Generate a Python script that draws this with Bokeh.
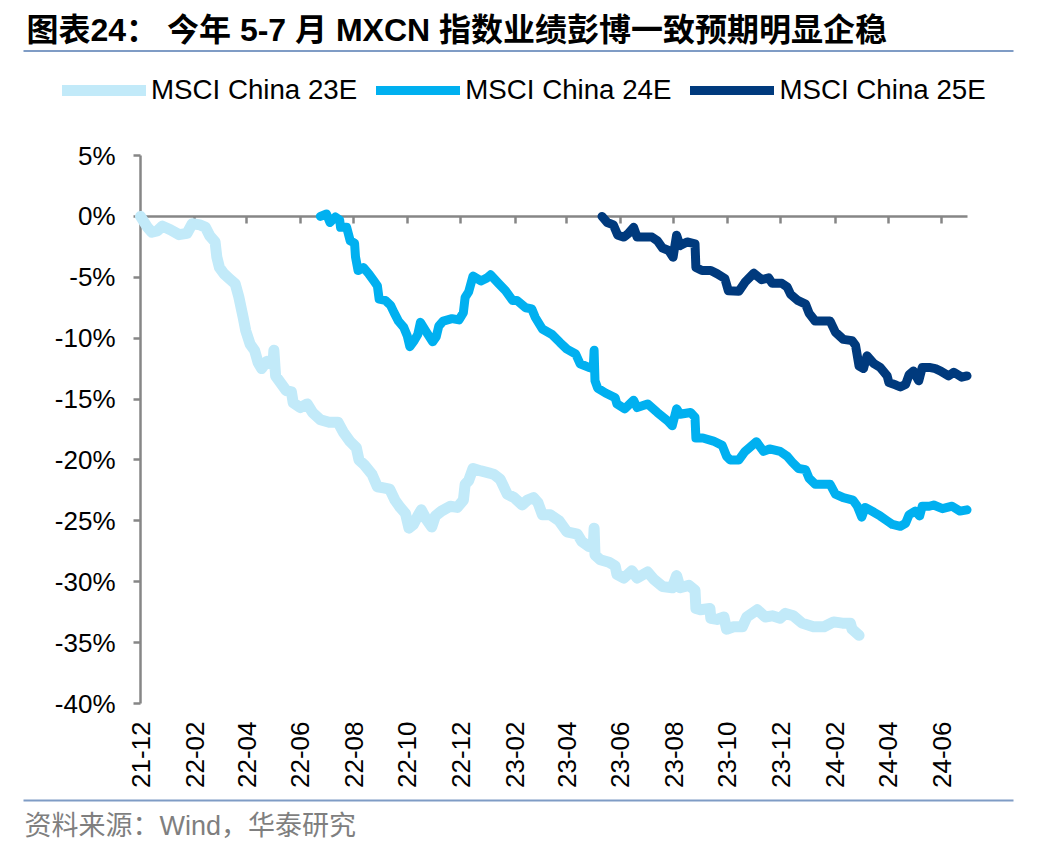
import math
import pandas as pd
from bokeh.plotting import figure
from bokeh.models import (Range1d, LinearAxis, FixedTicker, Label, BoxAnnotation,
                          Legend, LegendItem, ColumnDataSource)
from bokeh.embed import file_html
from bokeh.resources import INLINE

TITLE = "图表24：  今年 5-7 月 MXCN 指数业绩彭博一致预期明显企稳"
SOURCE = "资料来源：Wind，华泰研究"
series_names = ["MSCI China 23E", "MSCI China 24E", "MSCI China 25E"]
series_colors = ["#C2EAF9", "#00B0F0", "#003A7D"]
x_tick_labels = ["21-12", "22-02", "22-04", "22-06", "22-08", "22-10", "22-12", "23-02",
                 "23-04", "23-06", "23-08", "23-10", "23-12", "24-02", "24-04", "24-06"]
y_ticks = [5, 0, -5, -10, -15, -20, -25, -30, -35, -40]
x_start, x_end = "2021-12-01", "2024-06-30"

dates_23e = ["2021-12-01", "2021-12-09", "2021-12-14", "2021-12-20", "2021-12-26", "2022-01-04",
             "2022-01-14", "2022-01-23", "2022-01-29", "2022-02-07", "2022-02-13", "2022-02-18",
             "2022-02-24", "2022-02-26", "2022-03-01", "2022-03-06", "2022-03-12", "2022-03-19",
             "2022-03-23", "2022-03-28", "2022-03-31", "2022-04-05", "2022-04-10", "2022-04-14",
             "2022-04-18", "2022-04-24", "2022-04-28", "2022-05-01", "2022-05-02", "2022-05-04",
             "2022-05-10", "2022-05-16", "2022-05-22", "2022-05-24", "2022-06-01", "2022-06-09",
             "2022-06-15", "2022-06-24", "2022-07-04", "2022-07-14", "2022-07-20", "2022-07-28",
             "2022-08-04", "2022-08-07", "2022-08-13", "2022-08-22", "2022-08-28", "2022-09-04",
             "2022-09-11", "2022-09-17", "2022-09-23", "2022-09-29", "2022-10-03", "2022-10-08",
             "2022-10-13", "2022-10-17", "2022-10-23", "2022-10-29", "2022-11-02", "2022-11-09",
             "2022-11-19", "2022-11-27", "2022-12-04", "2022-12-06", "2022-12-10", "2022-12-15",
             "2022-12-24", "2023-01-04", "2023-01-08", "2023-01-15", "2023-01-23", "2023-01-31",
             "2023-02-09", "2023-02-15", "2023-02-22", "2023-02-27", "2023-03-04", "2023-03-13",
             "2023-03-23", "2023-04-01", "2023-04-13", "2023-04-18", "2023-04-26", "2023-05-01",
             "2023-05-02", "2023-05-03", "2023-05-09", "2023-05-19", "2023-05-26", "2023-05-28",
             "2023-06-05", "2023-06-14", "2023-06-20", "2023-07-02", "2023-07-09", "2023-07-19",
             "2023-07-30", "2023-08-04", "2023-08-08", "2023-08-18", "2023-08-25", "2023-08-26",
             "2023-08-31", "2023-09-11", "2023-09-12", "2023-09-19", "2023-09-27", "2023-09-30",
             "2023-10-08", "2023-10-18", "2023-10-23", "2023-11-04", "2023-11-13", "2023-11-21",
             "2023-11-30", "2023-12-06", "2023-12-15", "2023-12-25", "2024-01-07", "2024-01-19",
             "2024-01-30", "2024-02-09", "2024-02-18", "2024-02-20", "2024-02-28"]
values_23e = [0.0, -0.9, -1.3, -1.2, -0.8, -1.1,
              -1.5, -1.4, -0.6, -0.7, -0.9, -1.6,
              -2.1, -3.35, -4.2, -4.7, -5.1, -5.55,
              -6.6, -8.3, -9.4, -10.5, -11.0, -12.0,
              -12.5, -11.9, -12.1, -12.2, -11.0, -13.1,
              -13.7, -14.3, -14.4, -15.3, -15.7, -15.4,
              -16.1, -16.7, -16.9, -16.9, -17.7, -18.5,
              -19.0, -20.0, -20.4, -21.2, -22.2, -22.3,
              -22.4, -23.3, -23.9, -24.4, -25.6, -25.3,
              -24.6, -24.1, -24.9, -25.5, -24.6, -24.2,
              -23.8, -23.9, -23.3, -22.0, -21.7, -20.7,
              -20.9, -21.1, -21.2, -21.6, -22.8, -23.1,
              -23.7, -23.3, -23.1, -23.5, -24.5, -24.5,
              -25.0, -25.9, -26.1, -26.7, -27.1, -27.2,
              -25.6, -27.8, -28.2, -28.4, -28.7, -29.4,
              -29.7, -29.1, -29.7, -29.2, -29.8, -30.4,
              -30.5, -29.5, -30.5, -30.3, -30.7, -32.2,
              -32.3, -32.2, -33.0, -33.1, -32.9, -33.9,
              -33.7, -33.7, -32.9, -32.3, -32.9, -32.8,
              -33.0, -32.6, -32.8, -33.4, -33.7, -33.7,
              -33.3, -33.4, -33.4, -33.9, -34.4]

dates_24e = ["2022-06-24", "2022-07-01", "2022-07-05", "2022-07-11", "2022-07-16", "2022-07-17",
             "2022-07-24", "2022-07-28", "2022-08-02", "2022-08-03", "2022-08-06", "2022-08-12",
             "2022-08-18", "2022-08-24", "2022-08-28", "2022-08-30", "2022-09-06", "2022-09-12",
             "2022-09-16", "2022-09-21", "2022-09-27", "2022-10-01", "2022-10-04", "2022-10-09",
             "2022-10-13", "2022-10-16", "2022-10-22", "2022-10-30", "2022-11-03", "2022-11-06",
             "2022-11-11", "2022-11-21", "2022-11-29", "2022-12-04", "2022-12-06", "2022-12-10",
             "2022-12-15", "2022-12-24", "2022-12-31", "2023-01-04", "2023-01-13", "2023-01-21",
             "2023-01-29", "2023-02-03", "2023-02-13", "2023-02-20", "2023-02-24", "2023-03-04",
             "2023-03-15", "2023-03-24", "2023-04-01", "2023-04-11", "2023-04-16", "2023-04-26",
             "2023-05-01", "2023-05-02", "2023-05-03", "2023-05-06", "2023-05-15", "2023-05-26",
             "2023-05-28", "2023-06-06", "2023-06-16", "2023-06-20", "2023-07-02", "2023-07-13",
             "2023-07-25", "2023-07-30", "2023-08-04", "2023-08-08", "2023-08-20", "2023-08-25",
             "2023-08-26", "2023-09-03", "2023-09-15", "2023-09-25", "2023-09-30", "2023-10-04",
             "2023-10-14", "2023-10-21", "2023-10-26", "2023-11-03", "2023-11-11", "2023-11-18",
             "2023-11-30", "2023-12-08", "2023-12-14", "2023-12-21", "2023-12-29", "2024-01-02",
             "2024-01-09", "2024-01-26", "2024-02-01", "2024-02-10", "2024-02-21", "2024-02-26",
             "2024-03-02", "2024-03-06", "2024-03-16", "2024-03-23", "2024-03-31", "2024-04-06",
             "2024-04-15", "2024-04-21", "2024-04-25", "2024-05-02", "2024-05-07", "2024-05-10",
             "2024-05-18", "2024-05-23", "2024-06-02", "2024-06-13", "2024-06-22", "2024-06-30"]
values_24e = [0.0, 0.2, -0.5, -0.05, -0.3, -0.9,
              -0.9, -2.0, -2.2, -3.3, -4.45, -4.2,
              -4.7, -5.3, -5.7, -6.8, -6.9, -7.3,
              -7.9, -8.6, -9.1, -9.8, -10.7, -10.2,
              -9.7, -8.7, -9.4, -10.3, -9.9, -9.0,
              -8.6, -8.4, -8.5, -7.9, -6.65, -6.2,
              -4.9, -5.3, -5.05, -4.8, -5.5, -6.1,
              -6.9, -6.9, -7.5, -7.6, -8.3, -9.25,
              -9.7, -10.35, -10.9, -11.3, -12.1, -12.4,
              -12.5, -11.0, -13.5, -14.1, -14.5, -14.9,
              -15.4, -15.8, -15.1, -15.7, -15.4, -16.1,
              -16.8, -17.2, -15.8, -16.25, -16.1, -16.5,
              -18.2, -18.2, -18.45, -18.8, -19.7, -20.0,
              -20.0, -19.3, -19.0, -18.5, -19.3, -19.1,
              -19.3, -19.7, -20.2, -20.7, -20.8, -21.5,
              -22.0, -22.0, -22.8, -23.1, -23.3, -23.8,
              -24.7, -23.9, -24.3, -24.6, -25.0, -25.3,
              -25.45, -25.2, -24.5, -24.2, -24.6, -23.8,
              -23.8, -23.7, -24.0, -23.8, -24.2, -24.1]

dates_25e = ["2023-05-11", "2023-05-17", "2023-05-24", "2023-05-29", "2023-06-05", "2023-06-10",
             "2023-06-16", "2023-06-20", "2023-06-29", "2023-07-07", "2023-07-13", "2023-07-19",
             "2023-07-26", "2023-07-31", "2023-08-04", "2023-08-08", "2023-08-16", "2023-08-25",
             "2023-08-26", "2023-09-02", "2023-09-12", "2023-09-19", "2023-09-28", "2023-10-02",
             "2023-10-14", "2023-10-21", "2023-10-31", "2023-11-09", "2023-11-17", "2023-11-21",
             "2023-12-02", "2023-12-08", "2023-12-12", "2023-12-20", "2023-12-29", "2024-01-02",
             "2024-01-09", "2024-01-26", "2024-02-01", "2024-02-10", "2024-02-20", "2024-02-24",
             "2024-02-28", "2024-03-04", "2024-03-08", "2024-03-16", "2024-03-23", "2024-03-31",
             "2024-04-02", "2024-04-10", "2024-04-15", "2024-04-21", "2024-04-25", "2024-04-30",
             "2024-05-06", "2024-05-10", "2024-05-18", "2024-05-25", "2024-05-31", "2024-06-09",
             "2024-06-15", "2024-06-24", "2024-06-30"]
values_25e = [0.0, -0.5, -0.7, -1.55, -1.7, -1.4,
              -0.9, -1.7, -1.7, -1.7, -2.0, -2.6,
              -2.8, -3.35, -1.55, -2.4, -2.1, -2.25,
              -4.2, -4.45, -4.45, -4.7, -5.1, -6.1,
              -6.15, -5.4, -4.67, -5.2, -5.05, -5.5,
              -5.5, -5.8, -6.4, -6.9, -7.2, -7.95,
              -8.6, -8.6, -9.5, -10.1, -10.2, -10.6,
              -12.3, -12.5, -11.45, -12.1, -12.4, -13.1,
              -13.65, -13.85, -14.0, -13.8, -13.0, -12.7,
              -13.5, -12.4, -12.4, -12.5, -12.7, -13.1,
              -12.8, -13.2, -13.1]


def to_ms(s):
    return pd.Timestamp(s).value / 1e6


# ---- page geometry (pixels) ----
W, H = 1044, 852
PLOT_L, PLOT_R = 140.0, 966.5     # x of first / last date
PLOT_T, PLOT_B = 155.0, 703.0     # y of 5% / -40%
Y_TOP, Y_BOT = 5.0, -40.0

x0, x1 = to_ms(x_start), to_ms(x_end)
ms_per_px = (x1 - x0) / (PLOT_R - PLOT_L)
pct_per_px = (Y_TOP - Y_BOT) / (PLOT_B - PLOT_T)
x_range = Range1d(x0 - PLOT_L * ms_per_px, x1 + (W - PLOT_R) * ms_per_px)
y_range = Range1d(Y_BOT - (H - PLOT_B) * pct_per_px, Y_TOP + PLOT_T * pct_per_px)

AXIS_COLOR = "#868686"
RULE_COLOR = "#7F9CC5"
LATIN = "Liberation Sans"
MIXED = "Liberation Sans, Noto Sans CJK SC"

p = figure(width=W, height=H, output_backend="svg", toolbar_location=None,
           x_axis_type=None, y_axis_type=None, x_range=x_range, y_range=y_range,
           min_border=0, background_fill_color="white", border_fill_color="white",
           outline_line_color=None)

# y axis
yaxis = LinearAxis(fixed_location=x0, bounds=(Y_BOT, Y_TOP), ticker=FixedTicker(ticks=y_ticks),
                   major_label_overrides={t: f"{t}%" for t in y_ticks},
                   axis_line_color=AXIS_COLOR, axis_line_width=2.5,
                   major_tick_line_color=AXIS_COLOR, major_tick_line_width=2.5,
                   major_tick_in=0, major_tick_out=7, minor_tick_line_color=None,
                   major_label_text_font=LATIN, major_label_text_font_size="26px",
                   major_label_text_color="black", major_label_standoff=18, level="underlay")
p.add_layout(yaxis, "left")

tick_ms = [to_ms("20" + lbl + "-01") for lbl in x_tick_labels]

# x axis line at 0%
xzero = LinearAxis(fixed_location=0, bounds=(x0, x1), ticker=FixedTicker(ticks=tick_ms),
                   axis_line_color=AXIS_COLOR, axis_line_width=2.5,
                   major_tick_line_color=AXIS_COLOR, major_tick_line_width=2.5,
                   major_tick_in=0, major_tick_out=7, minor_tick_line_color=None,
                   major_label_text_font_size="0px", major_label_text_alpha=0,
                   major_label_standoff=0, level="underlay")
p.add_layout(xzero, "below")

# x labels at the bottom of the plot area
xlab = LinearAxis(fixed_location=Y_BOT, bounds=(x0, x1), ticker=FixedTicker(ticks=tick_ms),
                  major_label_overrides={t: lbl for t, lbl in zip(tick_ms, x_tick_labels)},
                  major_label_orientation=math.pi / 2,
                  axis_line_color=None, major_tick_line_color=None, minor_tick_line_color=None,
                  major_tick_in=0, major_tick_out=0, major_label_standoff=18,
                  major_label_text_font=LATIN, major_label_text_font_size="26px",
                  major_label_text_color="black")
p.add_layout(xlab, "below")

widths = [11, 9, 9]
all_dates = [dates_23e, dates_24e, dates_25e]
all_values = [values_23e, values_24e, values_25e]
renderers = []
for d, v, c, w in zip(all_dates, all_values, series_colors, widths):
    src = ColumnDataSource(dict(x=[to_ms(s) for s in d], y=v))
    r = p.line("x", "y", source=src, line_color=c, line_width=w,
               line_join="round", line_cap="round")
    renderers.append(r)

legend = Legend(items=[LegendItem(label=n, renderers=[r]) for n, r in zip(series_names, renderers)],
                orientation="horizontal", location=(62, H - 106),
                glyph_width=84, glyph_height=30, label_height=30, label_standoff=5,
                spacing=19, padding=0, margin=0, border_line_color=None,
                background_fill_alpha=0, label_text_font=LATIN,
                label_text_font_size="27.7px", label_text_color="black")
p.add_layout(legend)

p.add_layout(Label(x=26, y=H - 29, x_units="screen", y_units="screen", text=TITLE,
                   text_font=MIXED, text_font_style="bold", text_font_size="32px",
                   text_color="black", text_baseline="alphabetic"))
p.add_layout(Label(x=24, y=H - 825, x_units="screen", y_units="screen", text=SOURCE,
                   text_font=MIXED, text_font_size="27px",
                   text_color="#7F7F7F", text_baseline="alphabetic"))

for top_y in (49.5, 799.0):
    p.add_layout(BoxAnnotation(left=23, right=1013, top=H - top_y, bottom=H - top_y - 2,
                               left_units="screen", right_units="screen",
                               top_units="screen", bottom_units="screen",
                               fill_color=RULE_COLOR, fill_alpha=1, line_color=None))

open("out.html", "w").write(file_html(p, INLINE))
